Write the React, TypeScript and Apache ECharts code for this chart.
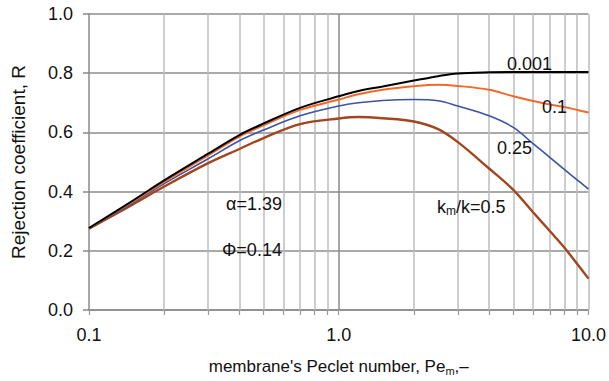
import React, { useEffect, useRef } from "react";
import * as echarts from "echarts";

const peValues = [0.1, 0.15, 0.2, 0.3, 0.4, 0.5, 0.7, 1.0, 1.2, 1.5, 2, 2.5, 3, 4, 5, 6, 7, 8, 9, 10];
const r0001 = [0.277, 0.37, 0.438, 0.528, 0.591, 0.63, 0.683, 0.722, 0.74, 0.755, 0.775, 0.79, 0.799, 0.803, 0.804, 0.804, 0.804, 0.804, 0.804, 0.804];
const r01 = [0.277, 0.367, 0.433, 0.522, 0.586, 0.624, 0.676, 0.711, 0.729, 0.744, 0.756, 0.761, 0.757, 0.744, 0.722, 0.706, 0.694, 0.686, 0.676, 0.667];
const r025 = [0.276, 0.362, 0.427, 0.511, 0.572, 0.608, 0.656, 0.689, 0.7, 0.708, 0.711, 0.707, 0.689, 0.656, 0.617, 0.562, 0.516, 0.475, 0.44, 0.408];
const r05 = [0.275, 0.357, 0.417, 0.496, 0.544, 0.581, 0.628, 0.647, 0.652, 0.648, 0.637, 0.611, 0.567, 0.478, 0.406, 0.33, 0.267, 0.211, 0.156, 0.106];

const xTickValues = [0.1, 0.2, 0.3, 0.4, 0.5, 0.6, 0.7, 0.8, 0.9, 1, 2, 3, 4, 5, 6, 7, 8, 9, 10];
const xLabelValues = [0.1, 1, 10];
const xMinorGrid = [0.2, 0.3, 0.4, 0.5, 0.6, 0.7, 0.8, 0.9, 2, 3, 4, 5, 6, 7, 8, 9, 10];
const xMajorGrid = [1];

const FONT = "'Liberation Sans', Arial, Helvetica, sans-serif";

function pairs(ys: number[]) {
  return peValues.map((x, i) => [x, ys[i]]);
}

export default function App() {
  const ref = useRef<HTMLDivElement>(null);
  useEffect(() => {
    const chart = echarts.init(ref.current!, null, { renderer: "svg" });
    const lineSeries = (name: string, ys: number[], color: string, width: number) => ({
      name,
      type: "line",
      data: pairs(ys),
      smooth: 0.35,
      showSymbol: false,
      symbol: "none",
      lineStyle: { color, width },
      z: 5,
    });
    chart.setOption({
      animation: false,
      backgroundColor: "#fff",
      textStyle: { fontFamily: FONT },
      grid: { left: 89, right: 19, top: 14, bottom: 71, containLabel: false },
      xAxis: {
        type: "log",
        logBase: 10,
        min: 0.1,
        max: 10,
        name: "membrane's Peclet number, Pe{sub|m},–",
        nameLocation: "middle",
        nameGap: 46,
        nameTextStyle: {
          fontSize: 17,
          color: "#111",
          fontFamily: FONT,
          rich: { sub: { fontSize: 11, verticalAlign: "bottom", padding: [9, 0, 0, 0], fontFamily: FONT, color: "#111" } },
        },
        axisLine: { show: true, lineStyle: { color: "#8a8a8a", width: 1.5 } },
        axisTick: { show: true, customValues: xTickValues, length: 5, lineStyle: { color: "#9a9a9a", width: 1.2 } },
        axisLabel: {
          customValues: xLabelValues,
          fontSize: 18,
          color: "#111",
          margin: 16,
          formatter: (v: number) => v.toFixed(1),
        },
        splitLine: { show: false },
        minorTick: { show: false },
      },
      yAxis: {
        type: "value",
        min: 0,
        max: 1,
        interval: 0.2,
        name: "Rejection coefficient, R",
        nameLocation: "middle",
        nameGap: 61,
        nameTextStyle: { fontSize: 19, color: "#111", fontFamily: FONT },
        axisLine: { show: true, lineStyle: { color: "#8a8a8a", width: 1.5 } },
        axisTick: { show: true, length: 6, lineStyle: { color: "#8a8a8a", width: 1.5 } },
        axisLabel: { fontSize: 18, color: "#111", margin: 16, formatter: (v: number) => v.toFixed(1) },
        splitLine: { show: true, lineStyle: { color: "#8c8c8c", width: 1.5 } },
      },
      series: [
        {
          type: "line",
          data: [],
          silent: true,
          markLine: {
            silent: true,
            symbol: "none",
            label: { show: false },
            lineStyle: { color: "#bdbdbd", width: 1.5, type: "solid" },
            data: xMinorGrid.map((v) => ({ xAxis: v })),
          },
          z: 1,
        },
        {
          type: "line",
          data: [],
          silent: true,
          markLine: {
            silent: true,
            symbol: "none",
            label: { show: false },
            lineStyle: { color: "#8a8a8a", width: 1.5, type: "solid" },
            data: xMajorGrid.map((v) => ({ xAxis: v })),
          },
          z: 2,
        },
        lineSeries("0.5", r05, "#a1461f", 2.4),
        lineSeries("0.25", r025, "#3d52a3", 1.6),
        lineSeries("0.1", r01, "#f26a2a", 2),
        lineSeries("0.001", r0001, "#000000", 2),
      ],
      graphic: [
        { type: "text", left: 507, top: 55, style: { text: "0.001", font: `18px ${FONT}`, fill: "#111" }, z: 10 },
        { type: "text", left: 542, top: 98, style: { text: "0.1", font: `18px ${FONT}`, fill: "#111" }, z: 10 },
        { type: "text", left: 497, top: 139, style: { text: "0.25", font: `18px ${FONT}`, fill: "#111" }, z: 10 },
        {
          type: "text",
          left: 437,
          top: 198,
          style: {
            text: "{n|k}{s|m}{n|/k=0.5}",
            rich: {
              n: { fontSize: 18, fontFamily: FONT, fill: "#111", color: "#111" },
              s: { fontSize: 12, fontFamily: FONT, fill: "#111", color: "#111", verticalAlign: "bottom", padding: [8, 0, 0, 0] },
            },
          },
          z: 10,
        },
        { type: "text", left: 226, top: 195, style: { text: "α=1.39", font: `18px ${FONT}`, fill: "#111" }, z: 10 },
        { type: "text", left: 222, top: 241, style: { text: "Φ=0.14", font: `18px ${FONT}`, fill: "#111" }, z: 10 },
      ],
    });
    return () => chart.dispose();
  }, []);
  return <div ref={ref} style={{ position: "fixed", left: 0, top: 0, width: 609, height: 381 }} />;
}
